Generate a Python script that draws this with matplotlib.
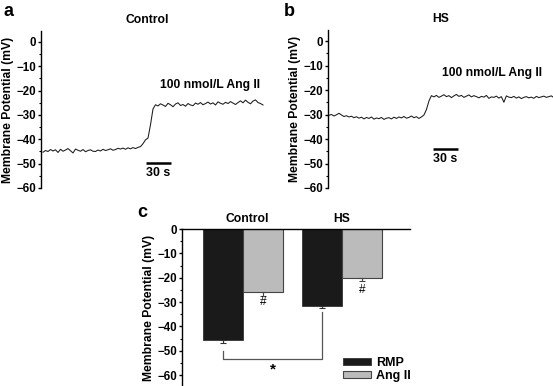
import numpy as np
import matplotlib
matplotlib.use("Agg")
import matplotlib.pyplot as plt

plt.rcParams['font.family'] = ['Liberation Sans', 'DejaVu Sans']
plt.rcParams['font.weight'] = 'bold'

# ---- data ----
dt_s = 3.0  # sampling interval of the traces (s)
control_trace = [
    -45.3, -44.6, -45.0, -44.2, -44.8, -44.3, -45.4, -44.1, -44.9, -44.4,
    -43.8, -44.7, -45.6, -44.0, -44.5, -44.9, -44.2, -45.1, -44.6, -44.3,
    -44.9, -45.0, -44.4, -44.8, -44.1, -44.6, -44.3, -43.9, -44.5, -44.2,
    -43.7, -44.0, -43.6, -44.1, -43.5, -43.9, -43.4, -43.8, -43.3,
    -43.0, -41.8, -40.2, -39.5, -34.0, -27.5, -25.8,
    -26.3, -25.4, -25.9, -26.5, -25.2, -25.8, -26.6, -25.5, -25.0, -26.1,
    -25.7, -26.4, -25.3, -25.9, -26.2, -25.1, -25.6, -24.9, -25.8, -25.3,
    -24.7, -25.5, -25.0, -25.9, -24.6, -25.2, -25.6, -24.8, -25.3, -24.5,
    -25.1, -25.7, -24.9, -24.2, -25.0, -23.9, -24.8, -25.4, -24.3, -23.8,
    -24.9, -25.3, -25.9,
]
hs_trace = [
    -30.3, -30.0, -30.6, -30.1, -29.5, -30.2, -30.8, -30.5, -31.0, -30.7,
    -31.3, -30.9, -31.5, -31.1, -31.8, -31.2, -31.6, -31.0, -31.9, -31.4,
    -31.7, -31.2, -32.0, -31.5, -31.3, -31.8, -31.1, -31.6, -31.0, -31.4,
    -30.8, -31.5, -31.2, -30.6, -31.3, -30.9, -31.6, -31.0,
    -30.2, -28.0, -24.5, -22.3,
    -22.8, -22.2, -23.0, -22.5, -21.9, -22.7, -22.3, -23.1, -22.4, -21.8,
    -22.6, -22.2, -23.0, -22.5, -22.0, -22.8, -22.3, -22.7, -23.2, -22.6,
    -22.9, -22.2, -23.4, -22.8, -23.0, -22.5, -23.3, -22.7, -25.0, -22.4,
    -22.9, -23.1, -22.6, -23.3, -22.8, -23.5, -23.0, -22.7, -23.2, -22.9,
    -23.4, -22.6, -23.1, -22.8, -22.5, -23.0, -22.7, -22.4, -23.1,
]
groups = ['Control', 'HS']
rmp_mean = [-45.5, -31.5]
rmp_err = [1.5, 1.0]
ang_mean = [-26.0, -20.0]
ang_err = [1.5, 1.5]
series_labels = ['RMP', 'Ang II']
yticks_mv = [0, -10, -20, -30, -40, -50, -60]

W, H = 553, 386
fig = plt.figure(figsize=(W / 100, H / 100), dpi=100)

def px_axes(left, right, top, bottom):
    return fig.add_axes([left / W, 1 - bottom / H, (right - left) / W, (bottom - top) / H])

TICK_FS = 8.3
LAB_FS = 8.7

def style_axis(ax):
    for s in ['top', 'right', 'bottom']:
        ax.spines[s].set_visible(False)
    ax.spines['left'].set_linewidth(1.0)
    ax.set_yticks(yticks_mv)
    ax.set_yticks(np.arange(-60, 1, 5), minor=True)
    ax.tick_params(axis='y', which='major', direction='out', length=2.5, width=1, labelsize=TICK_FS, pad=1)
    ax.tick_params(axis='y', which='minor', direction='out', length=1.8, width=0.8)
    ax.set_xticks([])
    ax.set_ylabel('Membrane Potential (mV)', fontsize=LAB_FS, fontweight='bold', labelpad=2)

def trace_panel(ax, vals, t_left, t_right, title, title_x, ann_x, ann_y, bar_t0, bar_y):
    t = np.arange(len(vals)) * dt_s
    ax.plot(t, vals, color='#1a1a1a', lw=0.75)
    ax.set_xlim(t_left, t_right)
    ax.set_ylim(-60, 4.5)
    ax.spines['left'].set_bounds(-60, 4.5)
    style_axis(ax)
    ax.text(title_x, 9, title, ha='center', va='center', fontsize=LAB_FS, clip_on=False)
    ax.text(ann_x, ann_y, '100 nmol/L Ang II', ha='center', va='center', fontsize=LAB_FS)
    ax.plot([bar_t0, bar_t0 + 30], [bar_y, bar_y], color='black', lw=1.8, solid_capstyle='butt')
    ax.text(bar_t0 + 15, bar_y - 4.3, '30 s', ha='center', va='center', fontsize=8.9)

# panel a
axa = px_axes(41, 268, 31, 188)
trace_panel(axa, control_trace, -2.4, 270, 'Control', 125, 200, -17.7, 123.6, -49.7)

# panel b
axb = px_axes(328, 553, 30, 188)
trace_panel(axb, hs_trace, -1.2, 269, 'HS', 134, 196, -13.2, 124.8, -44.0)

# panel c
axc = px_axes(182, 410, 229, 386)
x = np.arange(len(groups))
bw = 0.404
b1 = axc.bar(x - bw / 2, rmp_mean, bw, color='#1a1a1a', edgecolor='#333333', lw=0.6, label=series_labels[0])
b2 = axc.bar(x + bw / 2, ang_mean, bw, color='#bbbbbb', edgecolor='#444444', lw=0.8, label=series_labels[1])
axc.errorbar(x - bw / 2, rmp_mean, yerr=[rmp_err, [0, 0]], fmt='none', ecolor='#333333', elinewidth=0.8, capsize=2.2, capthick=0.8)
axc.errorbar(x + bw / 2, ang_mean, yerr=[ang_err, [0, 0]], fmt='none', ecolor='#444444', elinewidth=0.8, capsize=2.2, capthick=0.8)
axc.set_xlim(-0.616, 1.687)
axc.set_ylim(-64.5, 0)
style_axis(axc)
axc.spines['top'].set_visible(True)
axc.spines['top'].set_linewidth(1.0)
for xi, g in zip(x, groups):
    axc.text(xi + 0.04 * (1 - xi), 4.1, g, ha='center', va='center', fontsize=LAB_FS, clip_on=False)
for xi, m, e, off in zip(x, ang_mean, ang_err, [2.5, 3.5]):
    axc.text(xi + bw / 2, m - e - off, '#', ha='center', va='center', fontsize=8.5, fontweight='normal')
# significance bracket between RMP bars
axc.plot([x[0] - bw / 2, x[0] - bw / 2, x[1] - bw / 2, x[1] - bw / 2], [-50, -53.5, -53.5, -34],
         color='#555555', lw=0.9)
axc.text((x[0] + x[1]) / 2 - bw / 2, -57.8, '*', ha='center', va='center', fontsize=11)

fig.legend(handles=[b1, b2], labels=series_labels, loc='upper left',
           bbox_to_anchor=(343 / W, 1 - 357 / H), frameon=False, fontsize=9,
           handlelength=2.2, handleheight=0.45, handletextpad=0.45, labelspacing=0.05, borderpad=0, borderaxespad=0)

# panel letters
fig.text(4 / W, 1 - 11 / H, 'a', fontsize=13, ha='left', va='center')
fig.text(284 / W, 1 - 11 / H, 'b', fontsize=13, ha='left', va='center')
fig.text(137 / W, 1 - 213 / H, 'c', fontsize=13, ha='left', va='center')

fig.savefig('out.png', dpi=100)
